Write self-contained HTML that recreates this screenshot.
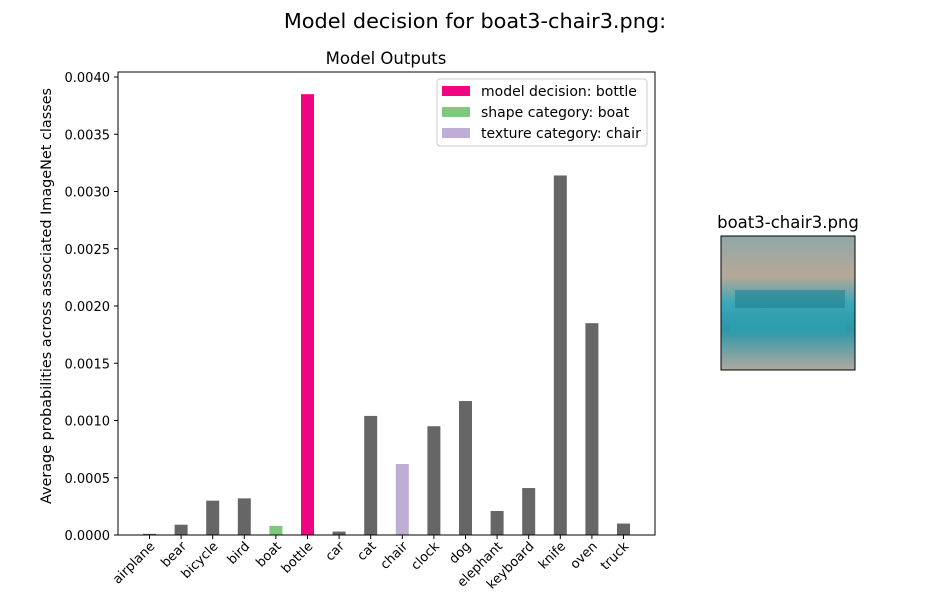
<!DOCTYPE html>
<html><head><meta charset="utf-8"><style>
body{margin:0;background:#fff;font-family:"Liberation Sans","DejaVu Sans",sans-serif;}
svg text{font-family:"DejaVu Sans","Liberation Sans",sans-serif;}
</style></head><body>
<svg id="chart" width="950" height="600" viewBox="0 0 950 600">
<rect width="950" height="600" fill="#fff"/>
<text x="475" y="28" font-size="20.8" text-anchor="middle">Model decision for boat3-chair3.png:</text>
<text x="386" y="64" font-size="16.5" text-anchor="middle">Model Outputs</text>
<text transform="translate(51,296) rotate(-90)" font-size="14.4" text-anchor="middle">Average probabilities across associated ImageNet classes</text>
<g id="bars"></g>
<g id="yticks"></g>
<g id="xticks"></g>
<rect x="118" y="72" width="537" height="463" fill="none" stroke="#000" stroke-width="1"/>
<g>
<rect x="437" y="79" width="210" height="67" fill="#fff" stroke="#ccc" rx="3"/>
<rect x="442" y="86" width="28" height="10" fill="#f0047f"/>
<text x="481" y="96" font-size="14">model decision: bottle</text>
<rect x="442" y="107" width="28" height="10" fill="#7fc97f"/>
<text x="481" y="117" font-size="14">shape category: boat</text>
<rect x="442" y="128" width="28" height="10" fill="#beaed4"/>
<text x="481" y="138" font-size="14">texture category: chair</text>
</g>
<text x="788" y="228" font-size="16.5" text-anchor="middle">boat3-chair3.png</text>
<defs>
<linearGradient id="g1" x1="0" y1="0" x2="0" y2="1">
<stop offset="0" stop-color="#8fa8a8"/><stop offset="0.3" stop-color="#b8a898"/><stop offset="0.5" stop-color="#3aa8b8"/><stop offset="0.7" stop-color="#2a98a8"/><stop offset="1" stop-color="#b0a8a0"/>
</linearGradient>
</defs>
<g>
<rect x="721" y="236" width="134" height="134" fill="url(#g1)"/>
<rect x="735" y="290" width="110" height="18" fill="#1f8090" opacity="0.6"/>
<rect x="730" y="320" width="115" height="14" fill="#2fa0b0" opacity="0.7"/>
<rect x="721" y="236" width="134" height="134" fill="none" stroke="#000"/>
</g>
</svg>
<script>
const categories=["airplane","bear","bicycle","bird","boat","bottle","car","cat","chair","clock","dog","elephant","keyboard","knife","oven","truck"];
const values=[0.00001,0.00009,0.0003,0.00032,0.00008,0.00385,0.00003,0.00104,0.00062,0.00095,0.00117,0.00021,0.00041,0.00314,0.00185,0.0001];
const yTicks=[0,0.0005,0.001,0.0015,0.002,0.0025,0.003,0.0035,0.004];
const yTickLabels=["0.0000","0.0005","0.0010","0.0015","0.0020","0.0025","0.0030","0.0035","0.0040"];
const decision="bottle",shape="boat",texture="chair";
const NS="http://www.w3.org/2000/svg";
function y(v){return 535-v/0.004*458;}
function x(i){return 149.5+i*31.6;}
function mk(t,a,p){const e=document.createElementNS(NS,t);for(const k in a)e.setAttribute(k,a[k]);p.appendChild(e);return e;}
const bars=document.getElementById('bars'),yt=document.getElementById('yticks'),xt=document.getElementById('xticks');
categories.forEach((c,i)=>{
 const col=c===decision?"#f0047f":c===shape?"#7fc97f":c===texture?"#beaed4":"#666666";
 const r=mk('rect',{x:x(i)-6.5,y:y(values[i]),width:13,height:535-y(values[i]),fill:col},bars);
 
 
 const l=mk('line',{x1:x(i),x2:x(i),y1:535,y2:539,stroke:"#000"},xt);
 
 
 const t=mk('text',{x:x(i)+6,y:547,"font-size":13,"text-anchor":"end",transform:`rotate(-45 ${x(i)+6} 547)`},xt);
 t.textContent=c;
 
 
});
yTicks.forEach((v,i)=>{
 const l=mk('line',{x1:114,x2:118,y1:y(v),y2:y(v),stroke:"#000"},yt);
 
 
 const t=mk('text',{x:110,y:y(v)+5,"font-size":13,"text-anchor":"end"},yt);
 t.textContent=yTickLabels[i];
 
 
});
</script>
</body></html>
